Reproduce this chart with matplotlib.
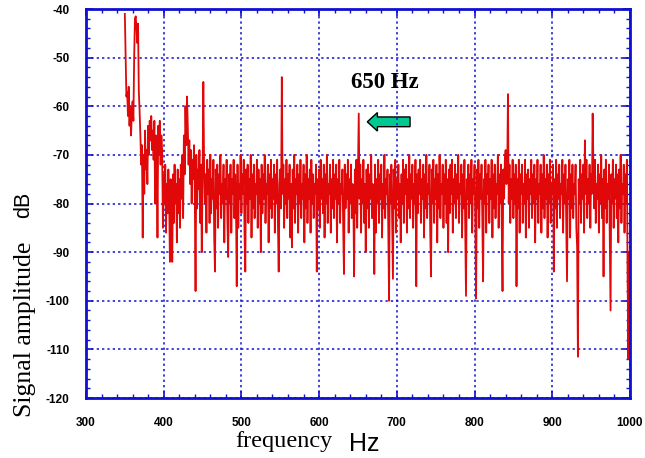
import numpy as np
import matplotlib.pyplot as plt
from matplotlib.ticker import MultipleLocator
from matplotlib.patches import FancyArrow

plt.rcParams['axes.unicode_minus'] = False

# Spectrum at 1 Hz steps starting at 350 Hz
amp_db = [
    -41, -50, -58, -57, -62, -56, -64, -60, -66, -61,
    -59, -63, -50, -42, -41.5, -44, -47, -43, -57, -61,
    -66, -72, -68, -87, -70, -78, -65, -73, -69, -76,
    -64, -70, -63, -67, -62, -69, -65, -71, -63, -80,
    -66, -68, -87, -64, -70, -63, -72, -66, -69, -85,
    -74, -80, -72, -86, -76, -82, -73, -79, -92, -75,
    -81, -92, -74, -84, -72, -80, -76, -88, -73, -82,
    -75, -85, -72, -79, -70, -83, -66, -74, -60, -68,
    -58, -64, -72, -67, -76, -69, -80, -71, -75, -68,
    -78, -98, -70, -81, -73, -77, -69, -84, -72, -90,
    -75, -55, -72, -80, -74, -86, -71, -78, -73, -84,
    -70, -82, -75, -79, -71, -87, -94, -73, -81, -72,
    -85, -74, -78, -70, -83, -76, -80, -72, -88, -75,
    -79, -71, -84, -91, -74, -80, -72, -86, -75, -78,
    -71, -83, -74, -80, -97, -72, -85, -76, -79, -70,
    -82, -74, -78, -71, -86, -94, -73, -80, -72, -84,
    -75, -79, -70, -87, -74, -81, -72, -83, -76, -78,
    -71, -85, -73, -80, -75, -90, -72, -82, -74, -79,
    -70, -84, -76, -78, -72, -88, -74, -81, -71, -83,
    -75, -79, -72, -86, -74, -80, -71, -84, -94, -76,
    -73, -81, -54, -78, -72, -85, -75, -80, -71, -83,
    -74, -79, -72, -87, -76, -89, -73, -81, -70, -84,
    -75, -78, -72, -86, -74, -80, -71, -83, -76, -79,
    -72, -88, -74, -81, -70, -84, -75, -79, -73, -86,
    -71, -80, -74, -83, -76, -78, -72, -94, -75, -81,
    -73, -85, -71, -79, -75, -82, -72, -87, -74, -80,
    -70, -84, -76, -78, -72, -86, -75, -81, -71, -83,
    -74, -79, -72, -88, -75, -80, -71, -84, -76, -78,
    -73, -85, -94.5, -72, -81, -74, -79, -71, -86, -75,
    -80, -72, -83, -76, -78, -95, -73, -82, -71, -85,
    -74, -61.5, -79, -72, -86, -75, -80, -71, -84, -76,
    -90, -73, -81, -72, -85, -74, -79, -70, -83, -76,
    -78, -94.5, -72, -86, -75, -80, -71, -84, -74, -79,
    -72, -87, -76, -81, -70, -83, -75, -78, -73, -85,
    -100, -74, -80, -72, -84, -95.5, -73, -81, -71, -86,
    -75, -79, -72, -83, -76, -88, -74, -80, -71, -84,
    -73, -78, -72, -86, -75, -81, -70, -83, -74, -79,
    -72, -85, -76, -80, -71, -97, -74, -82, -73, -78,
    -71, -84, -75, -79, -72, -87, -74, -81, -70, -83,
    -76, -78, -72, -86, -95, -73, -80, -71, -84, -75,
    -79, -72, -88, -74, -81, -70, -83, -76, -78, -72,
    -85, -74, -80, -71, -84, -75, -90, -73, -82, -72,
    -78, -71, -86, -75, -80, -72, -83, -74, -79, -70,
    -84, -76, -78, -72, -87, -74, -81, -71, -85, -99,
    -75, -79, -72, -83, -74, -80, -71, -86, -75, -78,
    -72, -84, -99.5, -73, -81, -71, -85, -74, -79, -72,
    -83, -96, -75, -80, -71, -86, -74, -78, -72, -84,
    -75, -79, -71, -87, -74, -81, -72, -83, -76, -78,
    -70, -85, -74, -80, -72, -84, -98, -73, -79, -71,
    -69, -76, -74, -57.5, -80, -72, -84, -75, -79, -71,
    -83, -74, -80, -72, -97, -75, -81, -71, -86, -74,
    -78, -72, -84, -76, -80, -71, -87, -74, -79, -73,
    -85, -75, -78, -71, -83, -74, -80, -72, -88, -75,
    -79, -71, -84, -76, -78, -72, -86, -74, -81, -70,
    -83, -75, -79, -72, -87, -74, -80, -71, -84, -76,
    -78, -72, -94, -75, -81, -71, -85, -74, -79, -72,
    -83, -76, -78, -71, -86, -74, -80, -72, -84, -96,
    -75, -79, -71, -87, -74, -81, -72, -83, -76, -78,
    -72, -85, -89, -111.5, -75, -80, -71, -84, -74, -79,
    -72, -86, -67, -78, -71, -83, -75, -80, -72, -85,
    -74, -78, -61.5, -73, -81, -71, -84, -76, -79, -72,
    -86, -74, -80, -70, -83, -75, -95, -73, -81, -71,
    -84, -76, -79, -72, -87, -102, -74, -80, -71, -85,
    -75, -79, -72, -83, -74, -88, -73, -81, -70, -84,
    -76, -78, -72, -86, -74, -80, -71, -96, -112, -90,
    -100,
]
freq = np.arange(350, 350 + len(amp_db))

blue = '#1010d0'

fig = plt.figure(figsize=(6.45, 4.58), dpi=100)
ax = fig.add_axes([0.1333, 0.131, 0.8434, 0.8493])

ax.plot(freq, amp_db, color='#e00808', lw=1.3)

ax.set_xlim(300, 1000)
ax.set_ylim(-120, -40)
ax.xaxis.set_major_locator(MultipleLocator(100))
ax.xaxis.set_minor_locator(MultipleLocator(20))
ax.yaxis.set_major_locator(MultipleLocator(10))
ax.yaxis.set_minor_locator(MultipleLocator(2))

ax.grid(True, which='major', color=blue, linestyle=(0, (1.5, 2)), lw=1.1)
for s in ax.spines.values():
    s.set_color(blue)
    s.set_linewidth(2)
ax.tick_params(which='both', direction='in', top=True, right=True, color=blue)
ax.tick_params(which='major', length=5, width=1.2)
ax.tick_params(which='minor', length=3, width=1)
ax.tick_params(axis='x', pad=14)
ax.tick_params(axis='y', pad=12)
for lab in ax.get_xticklabels() + ax.get_yticklabels():
    lab.set_fontfamily('Liberation Sans')
    lab.set_fontweight('bold')
    lab.set_fontsize(8.5)

# Axis titles: mixed fonts as in the original
fig.text(0.0385, 0.28, 'Signal amplitude', rotation=90, ha='center', va='center',
         family='Liberation Serif', fontsize=18.5)
fig.text(0.036, 0.552, 'dB', rotation=90, ha='center', va='center',
         family='Liberation Sans', fontsize=15.5)
fig.text(0.44, 0.037, 'frequency', ha='center', va='center',
         family='Liberation Serif', fontsize=17.5)
fig.text(0.565, 0.03, 'Hz', ha='center', va='center',
         family='Liberation Sans', fontsize=18)

# Annotation for the 650 Hz line
ax.text(685, -55.2, '650 Hz', ha='center', va='center',
        family='Liberation Serif', fontweight='bold', fontsize=16.5)
ax.add_patch(FancyArrow(717, -63.2, -55, 0, width=2.0, head_width=3.8,
                        head_length=13, length_includes_head=True,
                        facecolor='#00c890', edgecolor='black', lw=1))

fig.savefig('out.png', dpi=100)
